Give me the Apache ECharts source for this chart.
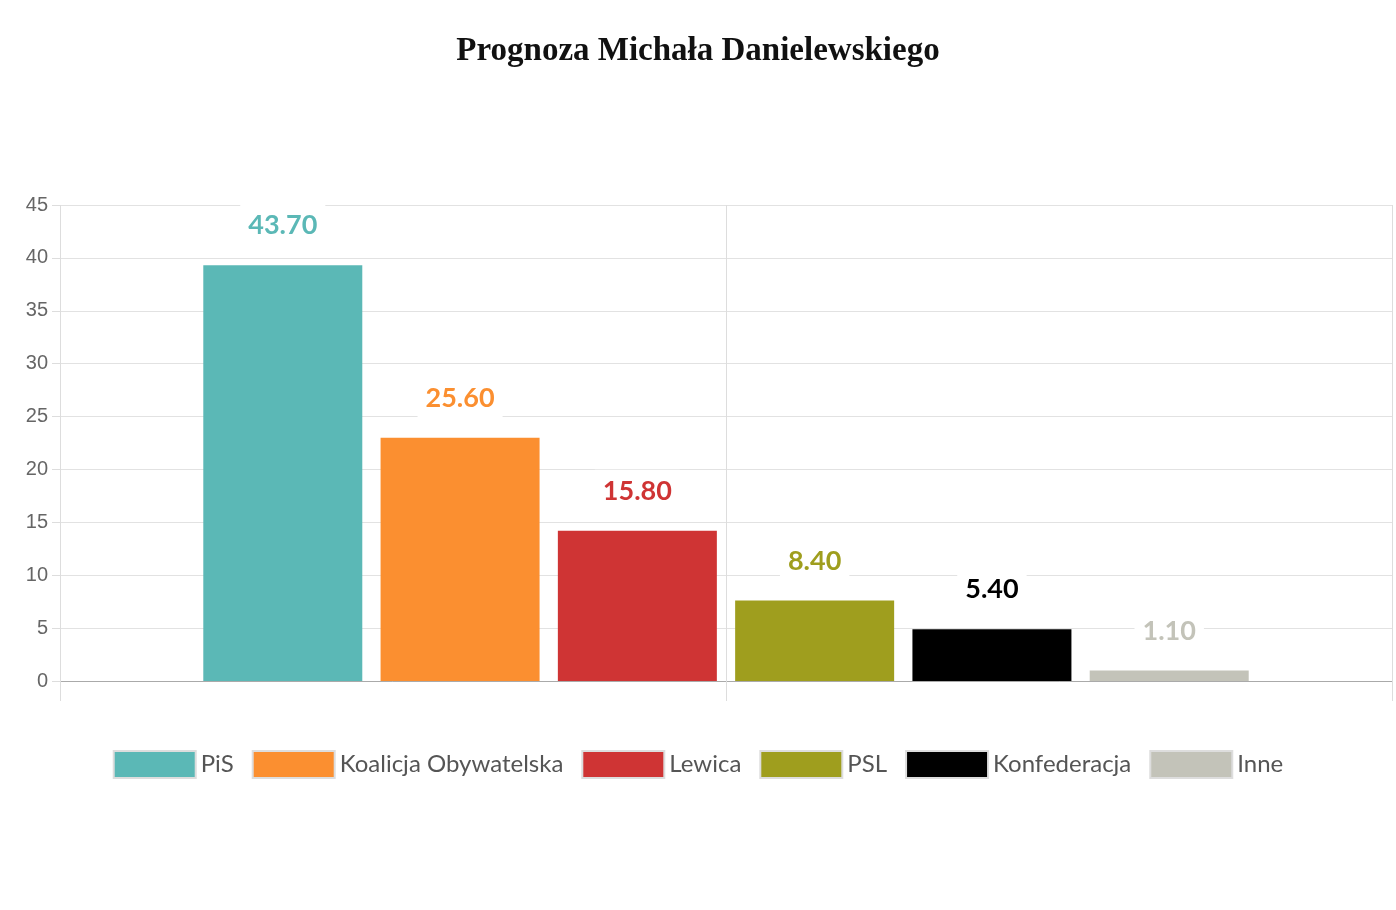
<!DOCTYPE html>
<html>
<head>
<meta charset="utf-8">
<title>Prognoza</title>
<script src="https://cdn.jsdelivr.net/npm/echarts@6/dist/echarts.min.js"></script>
<style>
    html, body { margin: 0; padding: 0; background: #fff; }
    #chart { width: 1396px; height: 910px; }
</style>
</head>
<body>
<div id="chart"></div>
<script>
// party names, forecast values (labels) and bar heights as drawn in the picture
var parties = ['PiS', 'Koalicja Obywatelska', 'Lewica', 'PSL', 'Konfederacja', 'Inne'];
var forecast = [43.70, 25.60, 15.80, 8.40, 5.40, 1.10];
var barHeights = [39.3, 23.0, 14.2, 7.6, 4.9, 1.0];
var colors = ['#5bb8b6', '#fb8f30', '#cf3434', '#9f9e1e', '#000000', '#c3c3b9'];
var yTicks = [0, 45, 5];

var myChart = echarts.init(document.getElementById('chart'));

var series = parties.map(function (name, i) {
    return {
        name: name,
        type: 'bar',
        xAxisIndex: 0,
        barWidth: 159,
        barGap: '11.5%',
        itemStyle: { color: colors[i] },
        data: [barHeights[i]],
        label: {
            show: true,
            position: 'top',
            distance: 18,
            formatter: function () { return forecast[i].toFixed(2); },
            color: colors[i],
            fontFamily: 'Lato',
            fontWeight: 'bold',
            fontSize: 27,
            backgroundColor: '#fff',
            padding: [8, 8]
        }
    };
});

var option = {
    animation: false,
    title: {
        text: 'Prognoza Michała Danielewskiego',
        left: 'center',
        top: 30,
        textStyle: { fontFamily: 'Liberation Serif', fontWeight: 'bold', fontSize: 33, color: '#111' }
    },
    legend: {
        bottom: 126,
        left: 'center',
        itemWidth: 82,
        itemHeight: 27,
        itemGap: 18,
        icon: 'rect',
        itemStyle: { borderColor: '#ddd', borderWidth: 2 },
        textStyle: { fontFamily: 'Lato', fontSize: 24, color: '#555' },
        data: parties
    },
    grid: { left: 60, right: 4, top: 205, bottom: 229, containLabel: false },
    xAxis: [
        {
            type: 'category',
            data: [''],
            axisLine: { lineStyle: { color: '#aaa' } },
            axisTick: { show: false },
            axisLabel: { show: false }
        },
        {
            type: 'value',
            min: 0, max: 2, interval: 1,
            position: 'bottom',
            axisLine: { show: false },
            axisLabel: { show: false },
            axisTick: { show: true, length: 20, lineStyle: { color: '#ddd' } },
            splitLine: { show: true, lineStyle: { color: '#ddd' } }
        }
    ],
    yAxis: {
        type: 'value',
        min: yTicks[0], max: yTicks[1], interval: yTicks[2],
        axisLine: { show: false },
        axisTick: { show: true, length: 8, lineStyle: { color: '#ddd' } },
        axisLabel: { fontFamily: 'Liberation Sans', fontSize: 20, color: '#666', margin: 12 },
        splitLine: { lineStyle: { color: '#e2e2e2' } }
    },
    series: series
};

myChart.setOption(option);
</script>
</body>
</html>
